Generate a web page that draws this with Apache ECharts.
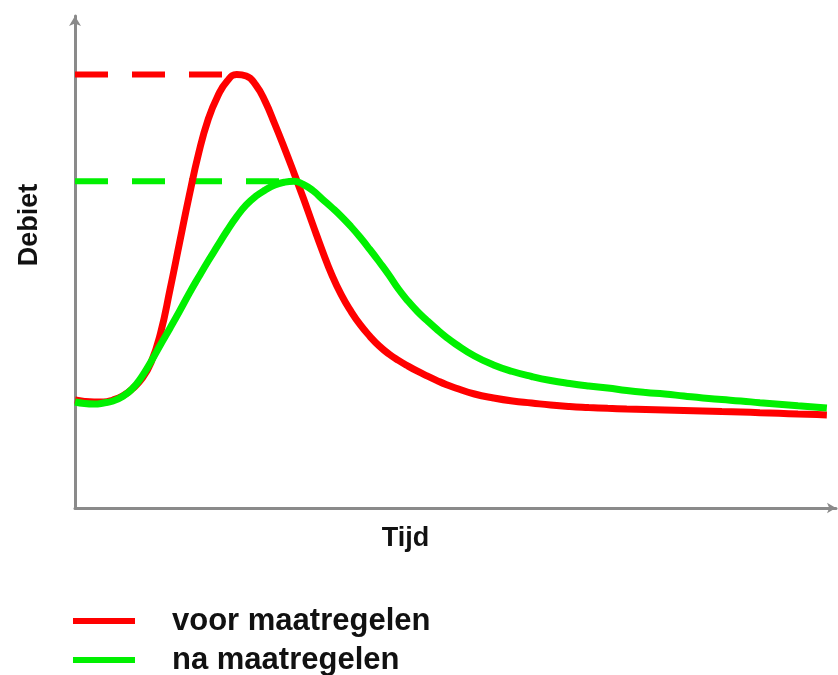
<!DOCTYPE html>
<html>
<head>
<meta charset="utf-8">
<script src="https://cdn.jsdelivr.net/npm/echarts@6/dist/echarts.min.js"></script>
<style>
html,body{margin:0;padding:0;background:#fff;}
#chart{width:838px;height:675px;}
</style>
</head>
<body>
<div id="chart"></div>
<script>
// Data (unitless: time 0-100, discharge 0-100)
const seriesNames = ['voor maatregelen', 'na maatregelen'];
const axisTitles = ['Tijd', 'Debiet'];

const timeX = [0, 1.25, 2.5, 3.75, 5, 6.25, 7.5, 8.75, 10, 11.25, 12.5, 13.75, 15, 16.25, 17.5, 18.75, 20, 21.25, 22.5, 23.75, 25, 26.25, 27.5, 28.75, 30, 31.25, 32.5, 33.75, 35, 36.25, 37.5, 38.75, 40, 41.25, 42.5, 43.75, 45, 46.25, 47.5, 48.75, 50, 52.5, 55, 57.5, 60, 62.5, 65, 67.5, 70, 72.5, 75, 77.5, 80, 82.5, 85, 87.5, 90, 92.5, 95, 97.5, 98.8];

const voorY = [21.95, 21.65, 21.54, 21.54, 21.95, 22.76, 24.19, 26.22, 29.6, 35.6, 44.5, 54.0, 63.4, 72.1, 79.0, 83.7, 86.8, 88.1, 87.8, 86.0, 82.6, 78.05, 73.23, 68.2, 63.0, 57.6, 52.3, 47.4, 43.3, 40.0, 37.2, 34.9, 32.9, 31.3, 30.0, 28.85, 27.8, 26.85, 25.95, 25.1, 24.4, 23.17, 22.36, 21.75, 21.34, 20.93, 20.63, 20.43, 20.26, 20.12, 20.02, 19.92, 19.82, 19.72, 19.61, 19.51, 19.37, 19.25, 19.11, 18.98, 18.90];

const naY = [21.54, 21.24, 21.14, 21.34, 21.75, 22.66, 24.19, 26.63, 29.78, 33.23, 36.59, 40.04, 43.60, 46.95, 50.20, 53.31, 56.40, 59.23, 61.59, 63.35, 64.63, 65.65, 66.2, 66.4, 65.75, 64.53, 62.80, 61.08, 59.25, 57.22, 54.98, 52.54, 50.0, 47.36, 44.51, 42.07, 39.94, 38.11, 36.38, 34.76, 33.33, 30.89, 29.07, 27.74, 26.73, 25.91, 25.30, 24.80, 24.39, 23.88, 23.48, 23.17, 22.76, 22.36, 22.05, 21.75, 21.40, 21.08, 20.77, 20.49, 20.33];

const colors = ['#ff0000', '#00f000'];

function pairs(xs, ys) { return xs.map((x, i) => [x, ys[i]]); }
function peak(xs, ys) {
  let k = 0;
  ys.forEach((v, i) => { if (v > ys[k]) k = i; });
  return [xs[k], ys[k]];
}
const voorPeak = peak(timeX, voorY);
const naPeak = peak(timeX, naY);

const chart = echarts.init(document.getElementById('chart'), null, {renderer: 'canvas'});
const fontFam = '"Liberation Sans", Arial, sans-serif';

chart.setOption({
  animation: false,
  backgroundColor: '#ffffff',
  grid: {left: 75, right: 2, top: 16, bottom: 167, containLabel: false},
  xAxis: {
    type: 'value', min: 0, max: 100,
    name: axisTitles[0], nameLocation: 'middle', nameGap: 17,
    nameTextStyle: {fontFamily: fontFam, fontWeight: 'bold', fontSize: 27, color: '#111', padding: [0, 100, 0, 0], verticalAlign: 'top'},
    axisLine: {show: true, lineStyle: {color: '#8a8a8a', width: 3}, symbol: ['none', 'arrow'], symbolSize: [8, 9]},
    axisTick: {show: false}, axisLabel: {show: false}, splitLine: {show: false}
  },
  yAxis: {
    type: 'value', min: 0, max: 100,
    name: axisTitles[1], nameLocation: 'middle', nameGap: 32, nameRotate: 90,
    nameTextStyle: {fontFamily: fontFam, fontWeight: 'bold', fontSize: 27, color: '#111', padding: [0, 0, 0, 74]},
    axisLine: {show: true, lineStyle: {color: '#8a8a8a', width: 3}, symbol: ['none', 'arrow'], symbolSize: [9, 10]},
    axisTick: {show: false}, axisLabel: {show: false}, splitLine: {show: false}
  },
  legend: {
    data: seriesNames,
    orient: 'vertical',
    left: 73, top: 605, height: 120, padding: 0,
    icon: 'rect',
    itemWidth: 62, itemHeight: 6, itemGap: 7,
    textStyle: {fontFamily: fontFam, fontWeight: 'bold', fontSize: 31, color: '#111', lineHeight: 32, padding: [0, 0, 0, 32]}
  },
  series: [
    {
      type: 'line', name: 'voorPeakLine', silent: true, showSymbol: false, z: 1,
      data: [[0, voorPeak[1]], [voorPeak[0], voorPeak[1]]],
      lineStyle: {color: colors[0], width: 6, type: [33, 24], cap: 'butt'}
    },
    {
      type: 'line', name: 'naPeakLine', silent: true, showSymbol: false, z: 1,
      data: [[0, naPeak[1]], [naPeak[0], naPeak[1]]],
      lineStyle: {color: colors[1], width: 6, type: [33, 24], cap: 'butt'}
    },
    {
      type: 'line', name: seriesNames[0], showSymbol: false, smooth: 0.5, z: 3,
      data: pairs(timeX, voorY),
      itemStyle: {color: colors[0]},
      lineStyle: {color: colors[0], width: 7}
    },
    {
      type: 'line', name: seriesNames[1], showSymbol: false, smooth: 0.5, z: 4,
      data: pairs(timeX, naY),
      itemStyle: {color: colors[1]},
      lineStyle: {color: colors[1], width: 7}
    }
  ]
});
</script>
</body>
</html>
